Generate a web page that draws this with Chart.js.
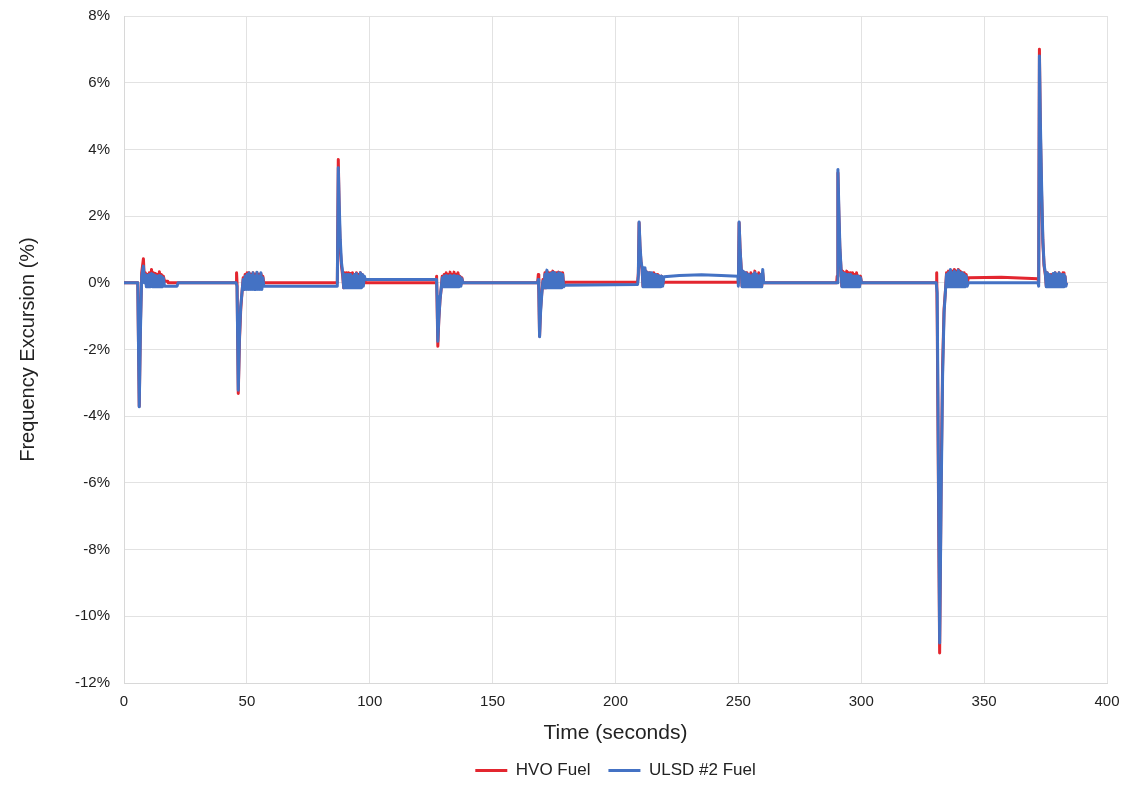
<!DOCTYPE html>
<html>
<head>
<meta charset="utf-8">
<title>Frequency Excursion</title>
<script src="https://cdn.jsdelivr.net/npm/chart.js@4.4.1/dist/chart.umd.min.js"></script>
<style>
  html, body { margin: 0; padding: 0; background: #fff; }
  #wrap { width: 1133px; height: 798px; }
</style>
</head>
<body>
<div id="wrap"><canvas id="freq-chart"></canvas></div>
<script>
// time in seconds, shared by both fuels (one line per load step)
const timeSec = [
  0, 5.6, 6.2, 6.7, 7.2, 7.9, 8.3, 8.7, 9.1, 9.5, 9.9, 10.3, 10.7, 11.2, 11.6, 12.0, 12.4, 12.8, 13.2, 13.6, 14.0, 14.4, 14.8, 15.2, 15.6, 16.0, 16.5, 17.8, 18.0, 21.6, 22.0, 45.6,
  45.8, 46.0, 46.5, 47.0, 47.5, 48.0, 48.5, 48.9, 49.3, 49.7, 50.1, 50.5, 50.9, 51.3, 51.7, 52.1, 52.5, 52.9, 53.3, 53.7, 54.1, 54.5, 54.9, 55.3, 55.7, 56.1, 56.5, 56.9, 86.8,
  87.2, 87.6, 88.0, 88.5, 89.0, 89.4, 89.8, 90.2, 90.6, 91.0, 91.4, 91.8, 92.2, 92.6, 93.0, 93.4, 93.8, 94.2, 94.6, 95.0, 95.4, 95.8, 96.2, 96.6, 97.0, 97.4, 97.8, 98.2, 127.0,
  127.2, 127.4, 127.7, 128.1, 128.6, 129.1, 129.5, 129.9, 130.3, 130.7, 131.1, 131.5, 131.9, 132.3, 132.7, 133.1, 133.5, 133.9, 134.3, 134.7, 135.1, 135.5, 135.9, 136.3, 136.7, 137.1, 137.5, 137.9, 168.3,
  168.6, 168.8, 169.1, 169.5, 170.0, 170.5, 170.9, 171.3, 171.7, 172.1, 172.5, 172.9, 173.3, 173.7, 174.1, 174.5, 174.9, 175.3, 175.7, 176.1, 176.5, 176.9, 177.3, 177.7, 178.1, 178.5, 178.9, 179.4, 209.0,
  209.3, 209.6, 210.0, 210.4, 210.8, 211.2, 211.6, 212.0, 212.4, 212.8, 213.2, 213.6, 214.0, 214.4, 214.8, 215.2, 215.6, 216.0, 216.4, 216.8, 217.2, 217.6, 218.0, 218.4, 218.8, 219.2, 219.7, 226.0, 235.0, 243.0, 249.8,
  250.0, 250.3, 250.7, 251.1, 251.5, 251.9, 252.3, 252.7, 253.1, 253.5, 253.9, 254.3, 254.7, 255.1, 255.5, 255.9, 256.3, 256.7, 257.1, 257.5, 257.9, 258.3, 258.7, 259.1, 259.5, 259.9, 260.3, 290.0,
  290.2, 290.5, 290.9, 291.3, 291.7, 292.1, 292.5, 292.9, 293.3, 293.7, 294.1, 294.5, 294.9, 295.3, 295.7, 296.1, 296.5, 296.9, 297.3, 297.7, 298.1, 298.5, 298.9, 299.3, 299.7, 300.1, 330.5,
  330.7, 330.9, 331.9, 332.5, 333.1, 333.7, 334.3, 334.7, 335.1, 335.5, 335.9, 336.3, 336.7, 337.1, 337.5, 337.9, 338.3, 338.7, 339.1, 339.5, 339.9, 340.3, 340.7, 341.1, 341.5, 341.9, 342.3, 342.7, 343.1, 343.6, 357.0, 371.9,
  372.2, 372.5, 372.9, 373.4, 373.9, 374.4, 374.9, 375.3, 375.7, 376.1, 376.5, 376.9, 377.3, 377.7, 378.1, 378.5, 378.9, 379.3, 379.7, 380.1, 380.5, 380.9, 381.3, 381.7, 382.1, 382.5, 382.9, 383.3, 383.6
];

// frequency excursion (%) - HVO fuel
const hvoFuel = [
  0, 0, -3.7, -1.2, 0.3, 0.72, 0.05, 0.3, -0.05, 0.25, -0.05, 0.3, -0.05, 0.4, 0, 0.3, 0, 0.28, 0, 0.25, 0, 0.33, 0, 0.25, 0, 0.2, 0.05, 0.05, 0, 0, 0, 0,
  0.3, 0, -3.32, -1.7, -0.8, -0.3, 0.15, -0.2, 0.25, -0.15, 0.3, -0.15, 0.3, -0.15, 0.25, -0.15, 0.3, -0.15, 0.25, -0.15, 0.3, -0.15, 0.25, -0.15, 0.28, -0.1, 0.2, 0, 0,
  3.7, 2.0, 1.0, 0.5, 0.2, -0.15, 0.3, -0.1, 0.3, -0.1, 0.3, -0.1, 0.28, -0.1, 0.3, -0.1, 0.25, -0.1, 0.3, -0.1, 0.25, -0.1, 0.3, -0.1, 0.25, -0.05, 0.15, 0, 0,
  0.2, -0.6, -1.9, -1.1, -0.5, -0.15, 0.2, -0.1, 0.25, -0.1, 0.3, -0.05, 0.25, -0.05, 0.32, -0.05, 0.25, -0.05, 0.32, -0.05, 0.25, -0.05, 0.3, -0.05, 0.2, -0.05, 0.15, 0, 0,
  0.25, -0.3, -1.6, -0.8, -0.3, 0.1, -0.15, 0.3, -0.15, 0.35, -0.1, 0.3, -0.1, 0.3, -0.1, 0.35, -0.1, 0.3, -0.1, 0.3, -0.1, 0.32, -0.1, 0.3, -0.1, 0.3, -0.05, 0.02, 0.02,
  0.3, 1.8, 1.0, 0.6, 0.4, -0.1, 0.4, -0.1, 0.35, -0.1, 0.3, -0.1, 0.3, -0.1, 0.25, -0.1, 0.3, -0.1, 0.25, -0.1, 0.25, -0.1, 0.2, -0.1, 0.2, -0.05, 0.02, 0.02, 0.02, 0.02, 0.02,
  0, 1.8, 1.0, 0.5, -0.1, 0.35, -0.1, 0.3, -0.1, 0.3, -0.1, 0.25, -0.1, 0.3, -0.1, 0.25, -0.1, 0.35, -0.1, 0.25, -0.1, 0.3, -0.1, 0.25, -0.1, 0.3, 0, 0,
  0.2, 3.3, 2.0, 1.0, 0.5, -0.1, 0.35, -0.1, 0.3, -0.1, 0.35, -0.1, 0.3, -0.1, 0.3, -0.1, 0.3, -0.1, 0.25, -0.1, 0.3, -0.1, 0.2, -0.1, 0.2, 0, 0,
  0.3, -1.0, -11.1, -6.0, -2.5, -0.8, -0.2, 0.3, -0.1, 0.35, -0.1, 0.3, -0.1, 0.35, -0.05, 0.4, -0.05, 0.35, -0.05, 0.4, -0.05, 0.35, -0.05, 0.3, -0.05, 0.3, -0.05, 0.25, 0, 0.15, 0.17, 0.12,
  0, 7.0, 4.5, 2.6, 1.2, 0.5, 0.25, -0.1, 0.3, -0.1, 0.2, -0.1, 0.25, -0.1, 0.25, -0.1, 0.3, -0.1, 0.25, -0.1, 0.3, -0.1, 0.25, -0.1, 0.3, -0.1, 0.2, -0.05, 0
];

// frequency excursion (%) - ULSD #2 fuel
const ulsdFuel = [
  0, 0, -3.72, -1.4, 0.2, 0.5, 0, 0.25, -0.12, 0.22, -0.12, 0.25, -0.12, 0.28, -0.12, 0.25, -0.12, 0.22, -0.12, 0.2, -0.12, 0.22, -0.12, 0.2, -0.12, 0.15, -0.1, -0.1, -0.1, -0.1, 0, 0,
  0, -0.1, -3.22, -1.6, -0.7, -0.3, 0.1, -0.2, 0.2, -0.2, 0.25, -0.2, 0.3, -0.2, 0.22, -0.2, 0.3, -0.2, 0.2, -0.2, 0.32, -0.2, 0.2, -0.2, 0.3, -0.2, 0.15, -0.1, -0.1,
  3.45, 2.3, 1.3, 0.6, 0.3, -0.15, 0.25, -0.15, 0.25, -0.15, 0.25, -0.15, 0.25, -0.15, 0.2, -0.15, 0.25, -0.15, 0.28, -0.15, 0.2, -0.15, 0.3, -0.15, 0.25, -0.1, 0.2, 0.1, 0.1,
  0.05, -0.4, -1.75, -1.1, -0.5, -0.15, 0.15, -0.12, 0.2, -0.12, 0.22, -0.12, 0.2, -0.12, 0.22, -0.12, 0.2, -0.12, 0.22, -0.12, 0.2, -0.12, 0.2, -0.12, 0.18, -0.1, 0.12, 0, 0,
  0.1, -0.2, -1.62, -0.9, -0.35, 0.05, -0.15, 0.25, -0.15, 0.38, -0.15, 0.25, -0.15, 0.28, -0.15, 0.32, -0.15, 0.3, -0.15, 0.25, -0.15, 0.3, -0.15, 0.28, -0.15, 0.25, -0.12, -0.07, -0.05,
  0.2, 1.82, 1.1, 0.65, 0.45, -0.12, 0.45, -0.12, 0.35, -0.12, 0.3, -0.12, 0.3, -0.12, 0.3, -0.12, 0.25, -0.12, 0.25, -0.12, 0.22, -0.12, 0.2, -0.12, 0.2, -0.1, 0.18, 0.22, 0.24, 0.22, 0.2,
  -0.1, 1.82, 1.0, 0.5, -0.12, 0.35, -0.12, 0.3, -0.12, 0.25, -0.12, 0.25, -0.12, 0.2, -0.12, 0.25, -0.12, 0.3, -0.12, 0.25, -0.12, 0.2, -0.12, 0.25, -0.12, 0.4, 0, 0,
  0, 3.4, 2.2, 1.1, 0.55, -0.12, 0.3, -0.12, 0.28, -0.12, 0.25, -0.12, 0.25, -0.12, 0.25, -0.12, 0.2, -0.12, 0.2, -0.12, 0.2, -0.12, 0.2, -0.12, 0.15, 0, 0,
  0, -0.3, -10.8, -6.5, -2.8, -0.9, -0.2, 0.25, -0.12, 0.3, -0.12, 0.4, -0.12, 0.3, -0.12, 0.35, -0.12, 0.3, -0.12, 0.38, -0.12, 0.3, -0.12, 0.3, -0.12, 0.25, -0.12, 0.2, -0.1, 0, 0, 0,
  -0.1, 6.8, 4.8, 2.9, 1.3, 0.55, 0.3, -0.12, 0.3, -0.12, 0.25, -0.12, 0.2, -0.12, 0.28, -0.12, 0.3, -0.12, 0.25, -0.12, 0.3, -0.12, 0.25, -0.12, 0.25, -0.12, 0.2, -0.1, 0
];

const seriesNames = ['HVO Fuel', 'ULSD #2 Fuel'];
const xTicks = [0, 50, 100, 150, 200, 250, 300, 350, 400];
const yTicks = [-12, -10, -8, -6, -4, -2, 0, 2, 4, 6, 8];

const hvoPoints = timeSec.map((t, i) => ({ x: t, y: hvoFuel[i] }));
const ulsdPoints = timeSec.map((t, i) => ({ x: t, y: ulsdFuel[i] }));

const fontFamily = "'Liberation Sans', Arial, sans-serif";
const tickFont = { family: fontFamily, size: 15 };

new Chart(document.getElementById('freq-chart'), {
  type: 'line',
  data: {
    datasets: [
      { label: seriesNames[0], data: hvoPoints, borderColor: '#e3262f', backgroundColor: '#e3262f',
        borderWidth: 3, borderJoinStyle: 'round', pointRadius: 0, order: 2 },
      { label: seriesNames[1], data: ulsdPoints, borderColor: '#4472c4', backgroundColor: '#4472c4',
        borderWidth: 3, borderJoinStyle: 'round', pointRadius: 0, order: 1 }
    ]
  },
  options: {
    responsive: true,
    maintainAspectRatio: false,
    animation: false,
    devicePixelRatio: 1,
    layout: { padding: { top: 16, right: 26, bottom: 9, left: 0 } },
    plugins: {
      legend: {
        position: 'bottom',
        fullSize: false,   // centre it under the plot area, not the canvas
        reverse: true,
        labels: {
          usePointStyle: true,
          pointStyle: 'line',
          pointStyleWidth: 32,
          boxHeight: 3,
          padding: 18,
          color: '#222',
          font: { family: fontFamily, size: 17 }
        }
      },
      tooltip: { enabled: false }
    },
    scales: {
      x: {
        type: 'linear',
        min: 0,
        max: 400,
        afterBuildTicks: (axis) => { axis.ticks = xTicks.map(v => ({ value: v })); },
        afterFit: (axis) => { axis.height = 61; axis.paddingLeft = 0; axis.paddingRight = 0; },
        grid: { color: '#e2e2e2', drawTicks: false },
        border: { color: '#d8d8d8' },
        ticks: { color: '#222', font: tickFont, padding: 10 },
        title: { display: true, text: 'Time (seconds)', color: '#222',
                 font: { family: fontFamily, size: 21 }, padding: { top: 0, bottom: -2 } }
      },
      y: {
        min: -12,
        max: 8,
        afterBuildTicks: (axis) => { axis.ticks = yTicks.map(v => ({ value: v })); },
        afterFit: (axis) => { axis.width = 124; axis.paddingTop = 0; axis.paddingBottom = 0; },
        grid: { color: '#e2e2e2', drawTicks: false },
        border: { color: '#d8d8d8' },
        ticks: { color: '#222', font: tickFont, padding: 14, callback: (v) => v + '%' },
        title: { display: true, text: 'Frequency Excursion (%)', color: '#222',
                 font: { family: fontFamily, size: 20 }, padding: { top: 16, bottom: 0 } }
      }
    }
  }
});
</script>
</body>
</html>
